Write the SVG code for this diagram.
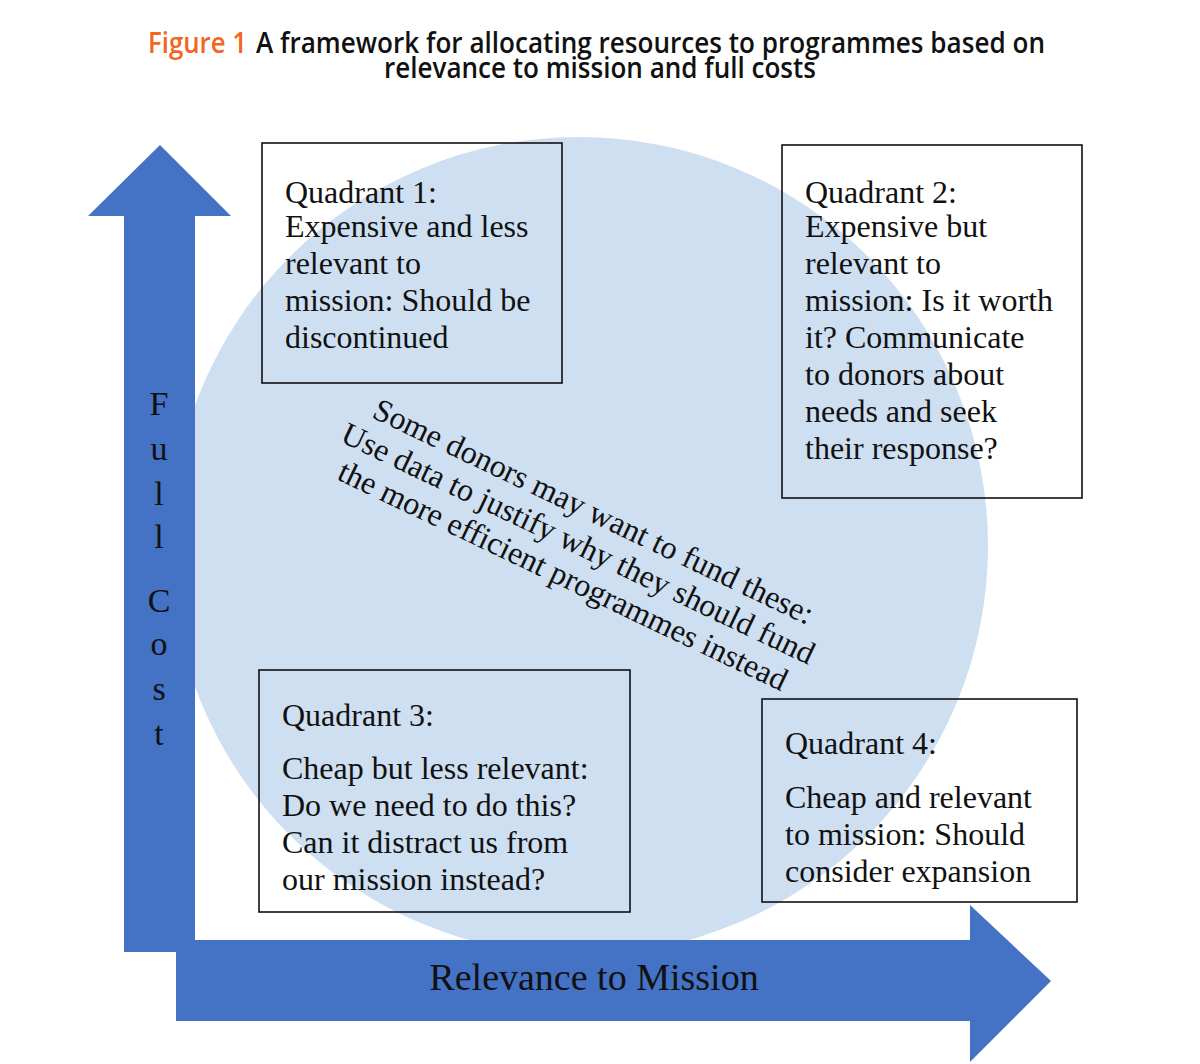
<svg xmlns="http://www.w3.org/2000/svg" width="1200" height="1064" viewBox="0 0 1200 1064">
  <style>
    .q { font-family: "Liberation Serif", "Times New Roman", serif; font-size: 32px; fill: #111; }
    .box { fill: none; stroke: #111; stroke-width: 1.6; }
    .axis { fill: #4472c4; }
    .axlbl { font-family: "Liberation Serif", "Times New Roman", serif; fill: #111; }
    .title { font-family: "Open Sans", "Liberation Sans", sans-serif; font-weight: 600; font-size: 29px; }
  </style>
  <rect width="1200" height="1064" fill="#ffffff"/>

  <g id="title">
    <text class="title" x="148" y="53" fill="#f26522" textLength="99" lengthAdjust="spacingAndGlyphs">Figure 1</text>
    <text class="title" x="256" y="53" fill="#111" textLength="789" lengthAdjust="spacingAndGlyphs">A framework for allocating resources to programmes based on</text>
    <text class="title" x="384" y="78" fill="#111" textLength="432" lengthAdjust="spacingAndGlyphs">relevance to mission and full costs</text>
  </g>

  <g id="background-circle">
    <circle cx="579" cy="546" r="409" fill="#cedff1"/>
  </g>

  <g id="connectors">
    <path id="full-cost-axis" class="axis" d="M124,952 L124,216 L88,216 L160,145 L231,216 L195,216 L195,952 Z"/>
    <path id="relevance-axis" class="axis" d="M176,940 L970,940 L970,905 L1051,981 L970,1062 L970,1021 L176,1021 Z"/>
  </g>

  <g id="full-cost-label" class="axlbl" font-size="34" text-anchor="middle">
    <text x="159" y="415">F</text>
    <text x="159" y="460">u</text>
    <text x="159" y="505">l</text>
    <text x="159" y="548">l</text>
    <text x="159" y="612">C</text>
    <text x="159" y="655">o</text>
    <text x="159" y="700">s</text>
    <text x="159" y="745">t</text>
  </g>

  <g id="relevance-label">
    <text class="axlbl" x="594" y="990" font-size="38" text-anchor="middle">Relevance to Mission</text>
  </g>

  <g id="quadrant1">
    <rect class="box" x="262" y="143" width="300" height="240"/>
    <text class="q" x="285" y="203">Quadrant 1:</text>
    <text class="q" x="285" y="237">Expensive and less</text>
    <text class="q" x="285" y="274">relevant to</text>
    <text class="q" x="285" y="311">mission: Should be</text>
    <text class="q" x="285" y="348">discontinued</text>
  </g>

  <g id="quadrant2">
    <rect class="box" x="782" y="145" width="300" height="353"/>
    <text class="q" x="805" y="203">Quadrant 2:</text>
    <text class="q" x="805" y="237">Expensive but</text>
    <text class="q" x="805" y="274">relevant to</text>
    <text class="q" x="805" y="311">mission: Is it worth</text>
    <text class="q" x="805" y="348">it? Communicate</text>
    <text class="q" x="805" y="385">to donors about</text>
    <text class="q" x="805" y="422">needs and seek</text>
    <text class="q" x="805" y="459">their response?</text>
  </g>

  <g id="quadrant3">
    <rect class="box" x="259" y="670" width="371" height="242"/>
    <text class="q" x="282" y="726">Quadrant 3:</text>
    <text class="q" x="282" y="779">Cheap but less relevant:</text>
    <text class="q" x="282" y="816">Do we need to do this?</text>
    <text class="q" x="282" y="853">Can it distract us from</text>
    <text class="q" x="282" y="890">our mission instead?</text>
  </g>

  <g id="quadrant4">
    <rect class="box" x="762" y="699" width="315" height="203"/>
    <text class="q" x="785" y="754">Quadrant 4:</text>
    <text class="q" x="785" y="808">Cheap and relevant</text>
    <text class="q" x="785" y="845">to mission: Should</text>
    <text class="q" x="785" y="882">consider expansion</text>
  </g>

  <g id="donor-note" transform="translate(589,521) rotate(25.5)">
    <text class="q" font-size="31" x="0" y="0" text-anchor="middle">Some donors may want to fund these:</text>
    <text class="q" font-size="31" x="0" y="35.5" text-anchor="middle">Use data to justify why they should fund</text>
    <text class="q" font-size="31" x="0" y="71" text-anchor="middle">the more efficient programmes instead</text>
  </g>
</svg>
